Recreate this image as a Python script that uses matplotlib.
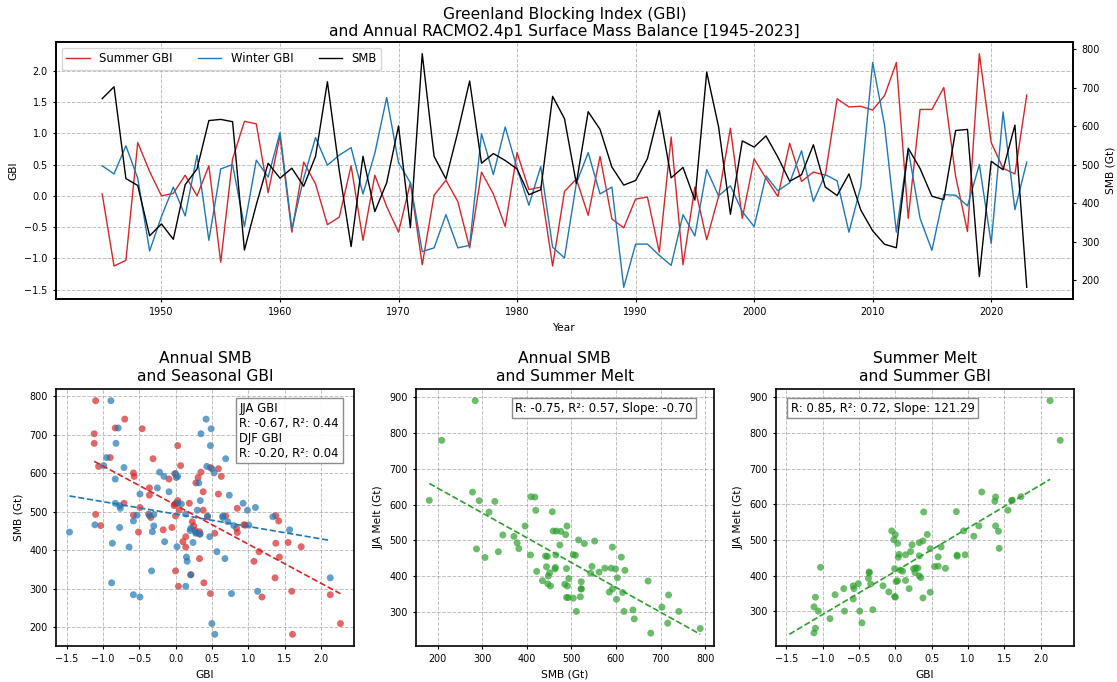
import numpy as np
import matplotlib
matplotlib.use("Agg")
import matplotlib.pyplot as plt

years = list(range(1945, 2024))

summer_gbi = [0.03, -1.12, -1.03, 0.85, 0.39, 0.00, 0.04, 0.33, 0.00, 0.48,
              -1.06, 0.59, 1.19, 1.15, 0.05, 0.96, -0.58, 0.54, 0.19, -0.46,
              -0.34, 0.48, -0.71, 0.33, -0.17, -0.58, 0.21, -1.10, 0.01, 0.25,
              -0.09, -0.83, 0.38, 0.03, -0.49, 0.69, 0.10, 0.14, -1.12, 0.07,
              0.27, -0.31, 0.63, -0.37, -0.51, -0.05, -0.02, -0.90, 0.94, -1.10,
              0.14, -0.70, -0.01, 1.08, -0.36, 0.59, 0.28, -0.01, 0.84, 0.23,
              0.38, 0.33, 1.55, 1.42, 1.43, 1.37, 1.60, 2.13, -0.36, 1.38,
              1.38, 1.73, 0.31, -0.57, 2.27, 0.85, 0.44, 0.35, 1.61]

winter_gbi = [0.48, 0.35, 0.80, 0.28, -0.88, -0.33, 0.14, -0.32, 0.65, -0.71,
              0.43, 0.50, -0.49, 0.57, 0.30, 1.01, -0.53, 0.28, 0.93, 0.49,
              0.65, 0.77, 0.03, 0.68, 1.57, 0.53, 0.21, -0.89, -0.83, -0.30,
              -0.83, -0.79, 0.99, 0.34, 1.10, 0.44, -0.15, 0.47, -0.82, -0.99,
              0.20, 0.69, 0.03, 0.14, -1.46, -0.77, -0.77, -0.95, -1.11, -0.30,
              -0.64, 0.42, 0.00, 0.16, -0.25, -0.49, 0.32, 0.08, 0.21, 0.72,
              -0.09, 0.34, 0.24, -0.58, 0.15, 2.13, 1.13, -0.58, 0.74, -0.36,
              -0.87, 0.02, 0.01, -0.16, 0.50, -0.76, 1.34, -0.22, 0.54]

smb = [672, 703, 464, 446, 315, 346, 306, 448, 489, 615,
       618, 612, 278, 396, 504, 465, 491, 444, 522, 716,
       485, 287, 522, 378, 453, 601, 336, 789, 522, 463,
       585, 718, 504, 529, 511, 489, 422, 435, 678, 620,
       451, 638, 592, 494, 447, 459, 516, 641, 466, 493,
       408, 741, 599, 371, 562, 546, 575, 520, 457, 474,
       552, 442, 420, 476, 382, 328, 293, 284, 543, 490,
       418, 409, 589, 592, 209, 509, 487, 603, 181]

jja_melt = [386, 313, 424, 455, 579, 515, 452, 400, 340, 354,
            301, 453, 635, 540, 460, 459, 372, 426, 364, 268,
            377, 476, 364, 493, 372, 335, 468, 253, 384, 420,
            355, 347, 338, 491, 301, 421, 413, 387, 240, 416,
            409, 305, 481, 393, 378, 526, 501, 280, 526, 340,
            459, 301, 420, 511, 411, 427, 422, 342, 580, 487,
            498, 456, 584, 525, 477, 609, 611, 891, 408, 540,
            621, 622, 422, 364, 780, 458, 516, 395, 612]

S = 0.698  # font scale
plt.rcParams.update({
    'font.family': ['DejaVu Sans'],
    'font.size': 10 * S,
    'xtick.labelsize': 10 * S,
    'ytick.labelsize': 10 * S,
    'axes.labelsize': 11 * S,
    'axes.titlesize': 16 * S,
    'xtick.major.size': 3.5 * S,
    'ytick.major.size': 3.5 * S,
    'xtick.major.width': 0.8,
    'ytick.major.width': 0.8,
    'axes.linewidth': 1.2,
})

yrs = np.array(years)
js = np.array(summer_gbi)
dw = np.array(winter_gbi)
sm = np.array(smb, dtype=float)
ml = np.array(jja_melt, dtype=float)

grid_kw = dict(linestyle='--', color='gray', alpha=0.5, linewidth=0.7)
box_kw = dict(facecolor='white', edgecolor='gray', alpha=0.9, boxstyle='square,pad=0.3')

fig = plt.figure(figsize=(11.17, 6.82), dpi=100)

# ---- top panel ----
ax = fig.add_axes([0.0501, 0.5616, 0.9105, 0.3768])
l1, = ax.plot(yrs, js, color='tab:red', lw=1.0, label='Summer GBI')
l2, = ax.plot(yrs, dw, color='tab:blue', lw=1.0, label='Winter GBI')
ax.set_ylabel('GBI')
ax.set_xlabel('Year')
ax.grid(True, **grid_kw)
ax2 = ax.twinx()
l3, = ax2.plot(yrs, sm, color='black', lw=1.0, label='SMB')
ax2.set_ylabel('SMB (Gt)')
ax.set_title('Greenland Blocking Index (GBI)\nand Annual RACMO2.4p1 Surface Mass Balance [1945-2023]',
             pad=4)
ax.legend([l1, l2, l3], ['Summer GBI', 'Winter GBI', 'SMB'], loc='upper left',
          ncol=3, fontsize=12 * S, handlelength=2.0, columnspacing=2.2)

# ---- bottom left ----
b1 = fig.add_axes([0.0501, 0.0528, 0.2668, 0.3768])
b1.scatter(js, sm, s=25, color='tab:red', alpha=0.7, edgecolors='none')
b1.scatter(dw, sm, s=25, color='tab:blue', alpha=0.7, edgecolors='none')
pj = np.polyfit(js, sm, 1)
pw = np.polyfit(dw, sm, 1)
xj = np.linspace(js.min(), js.max(), 50)
xw = np.linspace(dw.min(), dw.max(), 50)
b1.plot(xj, np.polyval(pj, xj), '--', color='tab:red', lw=1.2)
b1.plot(xw, np.polyval(pw, xw), '--', color='tab:blue', lw=1.2)
b1.set_xlabel('GBI')
b1.set_ylabel('SMB (Gt)')
b1.set_title('Annual SMB\nand Seasonal GBI')
b1.grid(True, **grid_kw)
b1.text(0.95, 0.95, 'JJA GBI\nR: -0.67, R²: 0.44\nDJF GBI\nR: -0.20, R²: 0.04',
        transform=b1.transAxes, ha='right', va='top', multialignment='left',
        fontsize=12 * S, bbox=box_kw)

# ---- bottom middle ----
b2 = fig.add_axes([0.3722, 0.0528, 0.2668, 0.3768])
b2.scatter(sm, ml, s=25, color='tab:green', alpha=0.7, edgecolors='none')
p2 = np.polyfit(sm, ml, 1)
xs = np.linspace(sm.min(), sm.max(), 50)
b2.plot(xs, np.polyval(p2, xs), '--', color='tab:green', lw=1.2)
b2.set_xlabel('SMB (Gt)')
b2.set_ylabel('JJA Melt (Gt)')
b2.set_title('Annual SMB\nand Summer Melt')
b2.grid(True, **grid_kw)
b2.text(0.93, 0.95, 'R: -0.75, R²: 0.57, Slope: -0.70',
        transform=b2.transAxes, ha='right', va='top', fontsize=12 * S, bbox=box_kw)

# ---- bottom right ----
b3 = fig.add_axes([0.6945, 0.0528, 0.2668, 0.3768])
b3.scatter(js, ml, s=25, color='tab:green', alpha=0.7, edgecolors='none')
p3 = np.polyfit(js, ml, 1)
b3.plot(xw, np.polyval(p3, xw), '--', color='tab:green', lw=1.2)
b3.set_xlabel('GBI')
b3.set_ylabel('JJA Melt (Gt)')
b3.set_title('Summer Melt\nand Summer GBI')
b3.grid(True, **grid_kw)
b3.text(0.05, 0.95, 'R: 0.85, R²: 0.72, Slope: 121.29',
        transform=b3.transAxes, ha='left', va='top', fontsize=12 * S, bbox=box_kw)

fig.savefig('out.png', dpi=100)
